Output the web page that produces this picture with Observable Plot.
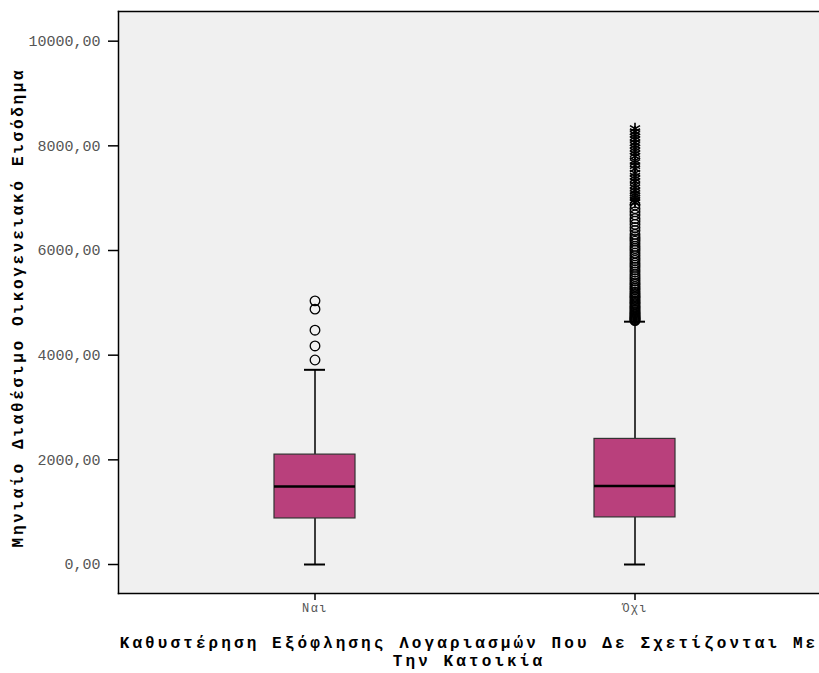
<!DOCTYPE html>
<html>
<head>
<meta charset="utf-8">
<script src="https://cdn.jsdelivr.net/npm/d3@7"></script>
<script src="https://cdn.jsdelivr.net/npm/@observablehq/plot@0.6"></script>
<style>
  body { margin: 0; background: #fff; }
  g[aria-label="y-axis tick label"], g[aria-label="x-axis tick label"] { fill: #555; }
</style>
</head>
<body>
<div id="chart"></div>
<script>
// Box-plot summary per group (monthly disposable household income)
const categories = ["Ναι", "Όχι"];
const whiskerLow = [0, 0];
const q1 = [880, 900];
const median = [1490, 1500];
const q3 = [2100, 2400];
const whiskerHigh = [3720, 4640];

// Outliers (circles) and extreme values (asterisks)
const outliersNai = [3908, 4176, 4477, 4879, 5038];
const outliersOxi = [
  4660, 4670, 4685, 4700, 4715, 4730, 4750, 4770, 4790, 4810, 4830, 4860,
  4880, 4910, 4930, 4960, 4990, 5010, 5040, 5070, 5100, 5120, 5150, 5180,
  5210, 5250, 5280, 5310, 5350, 5380, 5420, 5460, 5500, 5540, 5590, 5630,
  5680, 5720, 5760, 5810, 5850, 5900, 5950, 6000, 6040, 6080, 6130, 6180,
  6220, 6260, 6310, 6380, 6440, 6500, 6560, 6610, 6680, 6740, 6800, 6870
];
const extremesOxi = [
  6920, 6960, 7010, 7050, 7090, 7140, 7200, 7250, 7320, 7370, 7420, 7480,
  7560, 7620, 7680, 7720, 7800, 7850, 7900, 7960, 8010, 8060, 8120, 8170,
  8220, 8270, 8330
];

const yTicks = [0, 2000, 4000, 6000, 8000, 10000];
const yTitle = "Μηνιαίο Διαθέσιμο Οικογενειακό Εισόδημα";
const xTitle = ["Καθυστέρηση Εξόφλησης Λογαριασμών Που Δε Σχετίζονται Με", "Την Κατοικία"];

const boxes = categories.map((cat, i) => ({
  cat, lo: whiskerLow[i], q1: q1[i], med: median[i], q3: q3[i], hi: whiskerHigh[i]
}));
const circles = [
  ...outliersNai.map(v => ({cat: categories[0], v})),
  ...outliersOxi.map(v => ({cat: categories[1], v}))
];
const stars = extremesOxi.map(v => ({cat: categories[1], v}));

const fmt = d => d.toFixed(2).replace(".", ",");
const mono = "'Liberation Mono', 'DejaVu Sans Mono', monospace";

const chart = Plot.plot({
  width: 819,
  height: 673,
  marginTop: 11,
  marginBottom: 80,
  marginLeft: 118,
  marginRight: 0,
  style: {background: "white", fontFamily: mono},
  x: {type: "band", domain: categories, paddingInner: 0.748, paddingOuter: 0.466, align: 0.52, label: null},
  y: {domain: [-554, 10567], label: null},
  marks: [
    Plot.frame({fill: "#f0f0f0", stroke: "none"}),
    // whiskers
    Plot.ruleX(boxes, {x: "cat", y1: "lo", y2: "q1", stroke: "black", strokeWidth: 1.5}),
    Plot.ruleX(boxes, {x: "cat", y1: "q3", y2: "hi", stroke: "black", strokeWidth: 1.5}),
    Plot.tickY(boxes, {x: "cat", y: "lo", inset: 30, stroke: "black", strokeWidth: 2}),
    Plot.tickY(boxes, {x: "cat", y: "hi", inset: 30, stroke: "black", strokeWidth: 2}),
    // boxes and medians
    Plot.barY(boxes, {x: "cat", y1: "q1", y2: "q3", fill: "#b9407c", stroke: "#333", strokeWidth: 1.2}),
    Plot.tickY(boxes, {x: "cat", y: "med", stroke: "black", strokeWidth: 2.5}),
    // outliers and extremes
    Plot.dot(circles, {x: "cat", y: "v", r: 4.8, stroke: "black", strokeWidth: 1.3, fill: "none"}),
    Plot.dot(stars, {x: "cat", y: "v", r: 5.5, symbol: "asterisk", stroke: "black", strokeWidth: 1.6}),
    // frame lines (open on the right)
    Plot.frame({anchor: "top", stroke: "black", strokeWidth: 1.5}),
    Plot.frame({anchor: "bottom", stroke: "black", strokeWidth: 1.5}),
    Plot.frame({anchor: "left", stroke: "black", strokeWidth: 1.5}),
    // axes
    Plot.axisY({ticks: yTicks, tickSize: 10, tickPadding: 8, tickFormat: fmt, fontSize: 15,
                stroke: "black", strokeWidth: 1.5, label: null}),
    Plot.axisX({tickSize: 7, tickPadding: 3, fontSize: 12, stroke: "black", strokeWidth: 1.5, label: null}),
    // axis titles
    Plot.text([yTitle], {text: d => d, frameAnchor: "left", textAnchor: "middle", dx: -101, dy: 5, rotate: -90,
                         fontSize: 16, fontWeight: "bold", fill: "black"}),
    Plot.text([xTitle.join("\n")], {text: d => d, frameAnchor: "bottom", dy: 41, lineAnchor: "top",
                                    lineHeight: 1.15, fontSize: 16, fontWeight: "bold", fill: "black"})
  ]
});

// wide tracking on the axis titles and category labels
d3.select(chart).selectAll("text").each(function () {
  const t = this.textContent;
  if (t === yTitle) this.style.letterSpacing = "2.7px";
  else if (t.startsWith("Καθυστέρηση")) this.style.letterSpacing = "3.1px";
});
d3.select(chart).selectAll('g[aria-label="x-axis tick label"] text').style("letter-spacing", "1.5px");

document.getElementById("chart").append(chart);
</script>
</body>
</html>
